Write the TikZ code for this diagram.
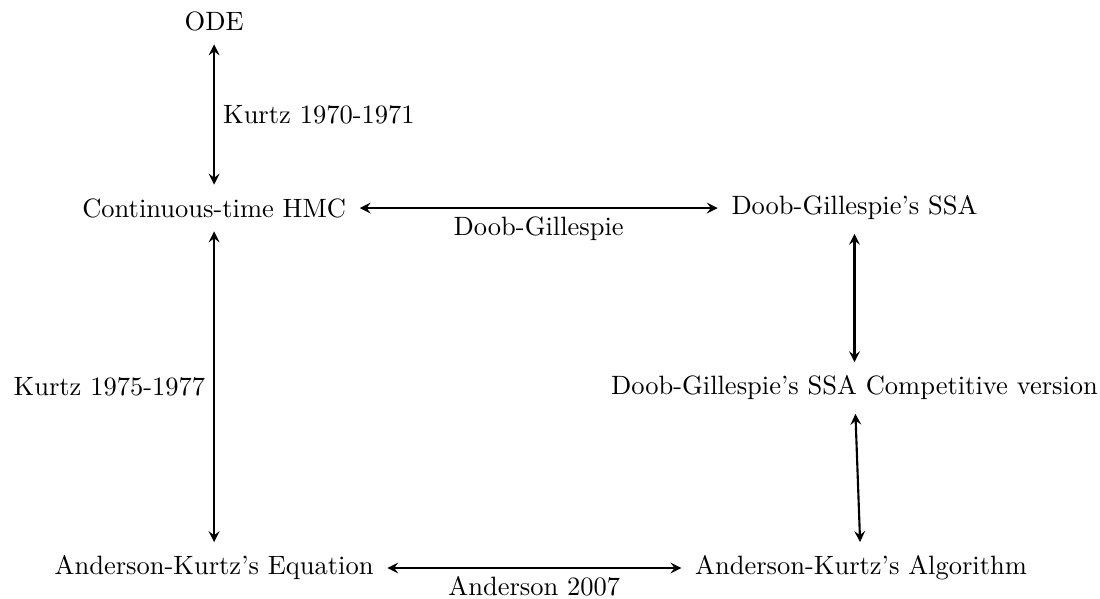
\documentclass[tikz,border=0pt]{standalone}
\usetikzlibrary{positioning}
\begin{document}
\begin{tikzpicture}[>=stealth, every node/.style={inner sep=5pt}, link/.style={<->,thick}, lbl/.style={inner sep=3pt}]
\useasboundingbox (0,0) rectangle (14.589,-7.944);
% nodes
\node (ode) at (2.84,-0.279) {ODE};
\node (hmc) at (2.84,-2.759) {Continuous-time HMC};
\node (ssa) at (11.333,-2.759) {Doob-Gillespie's SSA};
\node (comp) at (11.333,-5.146) {Doob-Gillespie's SSA Competitive version};
\node (eq) at (2.84,-7.533) {Anderson-Kurtz's Equation};
\node (alg) at (11.42,-7.533) {Anderson-Kurtz's Algorithm};
% links
\draw[link] (ode) -- (hmc) node[lbl,midway,right] (k70) {Kurtz 1970-1971};
\draw[link] (hmc) -- (ssa) node[lbl,midway,below] (dg) {Doob-Gillespie};
\draw[link] (hmc) -- (eq) node[lbl,midway,left] (k75) {Kurtz 1975-1977};
\draw[link] (ssa) -- (comp);
\draw[link] (comp) -- (alg);
\draw[link] (eq) -- (alg) node[lbl,midway,below] (a07) {Anderson 2007};
\end{tikzpicture}
\end{document}
